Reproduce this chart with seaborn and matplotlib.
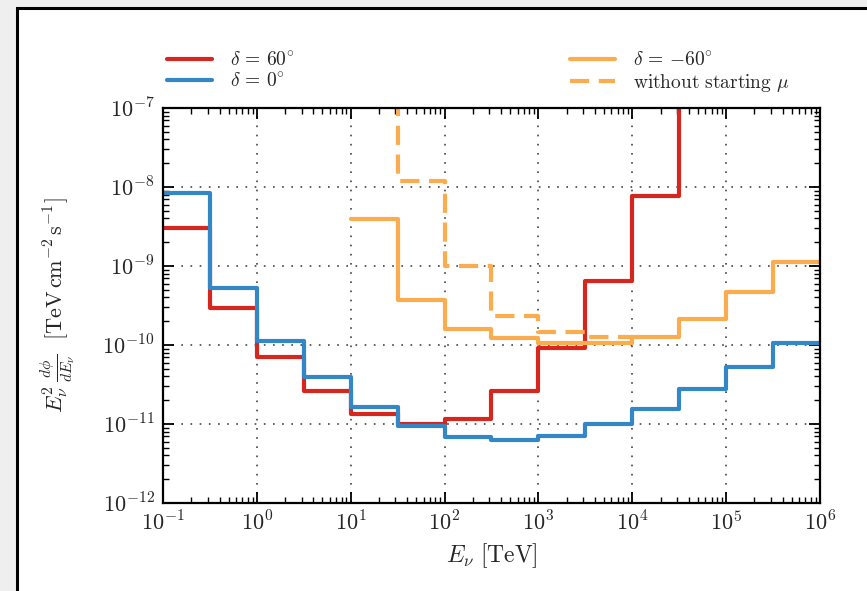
import numpy as np
import pandas as pd
import matplotlib
matplotlib.use("Agg")
import matplotlib.pyplot as plt
import matplotlib.ticker as mticker
from matplotlib.patches import Rectangle
import seaborn as sns

# ---- data (half-decade energy bins, TeV) ----
bin_edges = [10 ** (-1 + 0.5 * k) for k in range(15)]   # 0.1 ... 1e6

red_start = 0
red_vals = [3.0e-9, 2.9e-10, 7.0e-11, 2.65e-11, 1.35e-11, 1.0e-11, 1.15e-11,
            2.65e-11, 9.2e-11, 6.5e-10, 7.7e-9, 1.0e-5]   # last bin off scale

blue_start = 0
blue_vals = [8.5e-9, 5.3e-10, 1.12e-10, 3.9e-11, 1.65e-11, 9.5e-12, 6.8e-12,
             6.2e-12, 7.1e-12, 1.0e-11, 1.55e-11, 2.8e-11, 5.3e-11, 1.05e-10]

orange_start = 4
orange_vals = [3.9e-9, 3.7e-10, 1.58e-10, 1.22e-10, 1.07e-10, 1.07e-10,
               1.25e-10, 2.15e-10, 4.7e-10, 1.13e-9]

nostart_start = 4
nostart_vals = [1.0e-6, 1.19e-8, 1.0e-9, 2.35e-10, 1.45e-10, 1.25e-10]

labels = [r'$\delta\,=\,60^{\circ}$', r'$\delta\,=\,0^{\circ}$',
          r'$\delta\,=\,{-}60^{\circ}$', r'$\mathrm{without\ starting}\ \mu$']
colors = ['#d7261e', '#3387c6', '#fbac4e', '#fbac4e']


def steps(start, vals):
    x = bin_edges[start:start + len(vals) + 1]
    y = list(vals) + [vals[-1]]
    return pd.DataFrame({'E': x, 'flux': y})


sns.set_style('ticks')
plt.rcParams['mathtext.fontset'] = 'cm'
plt.rcParams['font.family'] = ['DejaVu Serif']

fig = plt.figure(figsize=(8.67, 5.91), dpi=100)
fig.patch.set_facecolor('#efefef')
frame = Rectangle((17 / 867, -0.02), 1.2, 1 - 8 / 591 + 0.02,
                  transform=fig.transFigure, facecolor='white',
                  edgecolor='black', linewidth=2.2, zorder=-10)
fig.patches.append(frame)
ax = fig.add_axes([163 / 867, 1 - 503 / 591, (820 - 163) / 867, (503 - 108) / 591])
ax.set_zorder(1)

series = [(red_start, red_vals, '-'), (blue_start, blue_vals, '-'),
          (orange_start, orange_vals, '-'), (nostart_start, nostart_vals, '--')]
for (st, vals, ls), lab, col in zip(series, labels, colors):
    df = steps(st, vals)
    kw = dict(linestyle=ls)
    if ls == '--':
        kw = dict(dashes=(4.6, 2.3))
    sns.lineplot(data=df, x='E', y='flux', ax=ax, color=col, linewidth=3.0,
                 drawstyle='steps-post', estimator=None, sort=False,
                 label=lab, **kw)

ax.set_xscale('log')
ax.set_yscale('log')
ax.set_xlim(1e-1, 1e6)
ax.set_ylim(1e-12, 1e-7)

fmt = mticker.FuncFormatter(lambda v, _: r'$10^{%d}$' % int(round(np.log10(v))))
ax.xaxis.set_major_formatter(fmt)
ax.yaxis.set_major_formatter(fmt)
ax.xaxis.set_major_locator(mticker.LogLocator(base=10, numticks=20))
ax.yaxis.set_major_locator(mticker.LogLocator(base=10, numticks=20))
ax.xaxis.set_minor_locator(mticker.LogLocator(base=10, subs=np.arange(2, 10), numticks=20))
ax.yaxis.set_minor_locator(mticker.LogLocator(base=10, subs=np.arange(2, 10), numticks=20))
ax.yaxis.set_minor_formatter(mticker.NullFormatter())
ax.xaxis.set_minor_formatter(mticker.NullFormatter())

ax.tick_params(which='both', direction='in', top=True, right=True, color='black')
ax.tick_params(which='major', length=8, width=1.3, labelsize=16, pad=6)
ax.tick_params(which='minor', length=4, width=1.0)
for s in ax.spines.values():
    s.set_color('black')
    s.set_linewidth(1.6)

ax.grid(True, which='major', color='#444444', linestyle=(0, (1, 4.5)), linewidth=1.2)

ax.set_xlabel(r'$E_\nu\ [\mathrm{TeV}]$', fontsize=17, labelpad=4)
ax.set_ylabel(r'$E_\nu^2\,\frac{d\phi}{dE_\nu}\ \ [\mathrm{TeV\,cm^{-2}\,s^{-1}}]$',
              fontsize=16, labelpad=18)

handles, labs = ax.get_legend_handles_labels()
leg = ax.legend(handles, labs, ncol=2, loc='lower left',
                bbox_to_anchor=(-0.005, 1.015), columnspacing=14.2,
                frameon=False, fontsize=14, handlelength=2.3, handletextpad=0.9,
                labelspacing=0.15, borderaxespad=0.0)

fig.savefig('out.png', dpi=100, facecolor=fig.get_facecolor())
